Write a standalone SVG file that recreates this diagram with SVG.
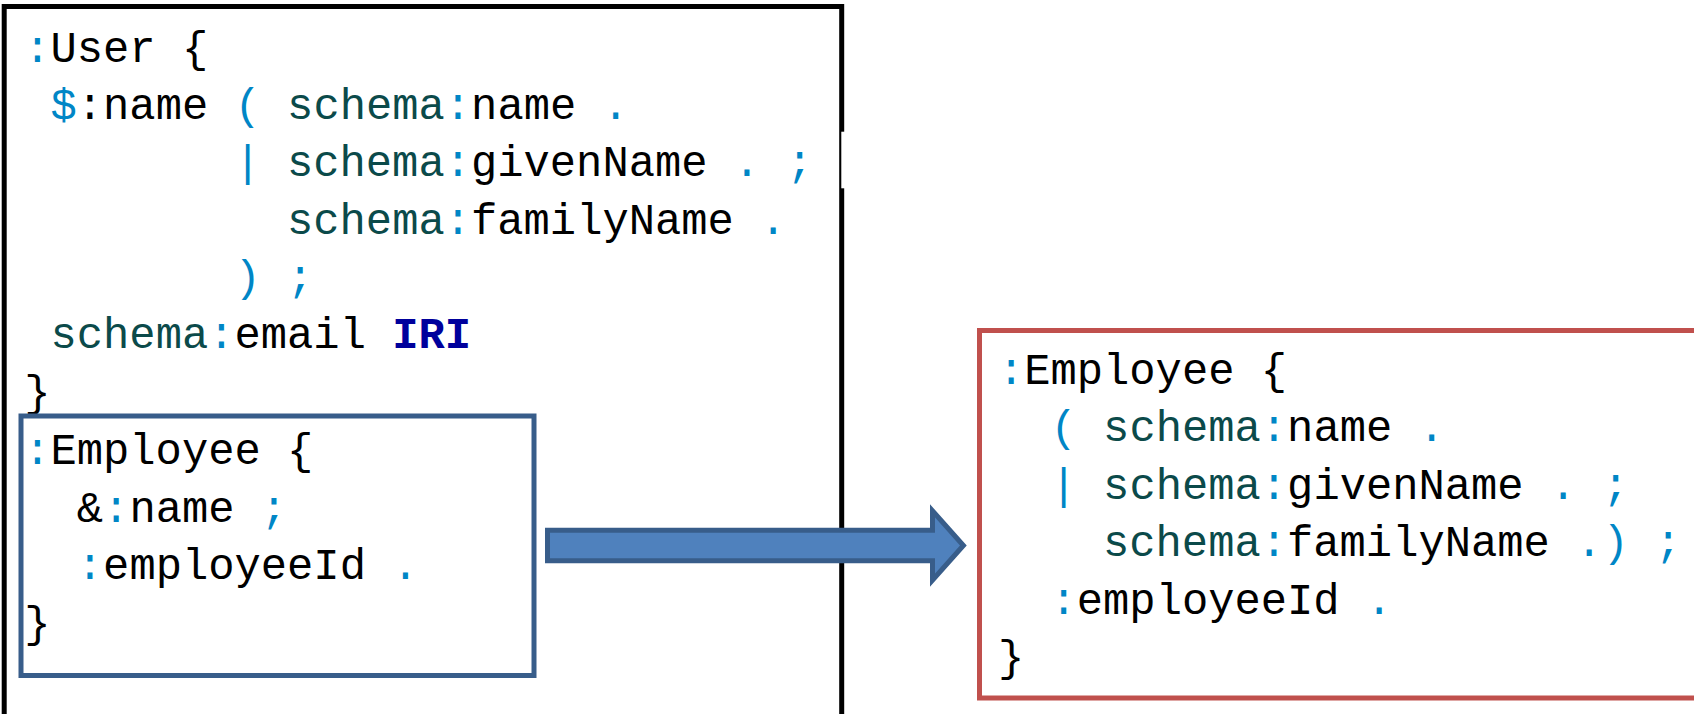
<svg xmlns="http://www.w3.org/2000/svg" width="1694" height="714" viewBox="0 0 1694 714">
  <style>
    .code { font-family: "Liberation Mono", "DejaVu Sans Mono", monospace; font-size: 43.8px; fill: #000000; }
    .p { fill: #0086C6; }
    .s { fill: #0B4A4A; }
    .k { fill: #00009C; font-weight: bold; }
    .frame { fill: #FFFFFF; stroke-width: 5; }
  </style>
  <rect x="0" y="0" width="1694" height="714" fill="#FFFFFF"/>

  <!-- :User shape definition; code columns are 26.28px wide -->
  <g id="user-shape">
    <rect class="frame" x="4.2" y="6.5" width="837.5" height="800" stroke="#000000"/>
    <rect x="841.3" y="131.7" width="4" height="56.6" fill="#FFFFFF"/>
    <text class="code" x="24.2" y="61.7"><tspan class="p">:</tspan>User {</text>
    <text class="code" x="50.5" y="119"><tspan class="p">$</tspan>:name <tspan class="p">(</tspan> <tspan class="s">schema</tspan><tspan class="p">:</tspan>name <tspan class="p">.</tspan></text>
    <text class="code" x="234.4" y="176.3"><tspan class="p">|</tspan> <tspan class="s">schema</tspan><tspan class="p">:</tspan>givenName <tspan class="p">.</tspan> <tspan class="p">;</tspan></text>
    <text class="code" x="287.0" y="233.6"><tspan class="s">schema</tspan><tspan class="p">:</tspan>familyName <tspan class="p">.</tspan></text>
    <text class="code" x="234.4" y="290.9"><tspan class="p">)</tspan> <tspan class="p">;</tspan></text>
    <text class="code" x="50.5" y="348.2"><tspan class="s">schema</tspan><tspan class="p">:</tspan>email <tspan class="k">IRI</tspan></text>
    <text class="code" x="24.2" y="405.5">}</text>
  </g>

  <!-- :Employee shape using the &:name reference -->
  <g id="employee-ref">
    <rect class="frame" x="21" y="416" width="513" height="259.5" stroke="#385D8A"/>
    <text class="code" x="24.2" y="464"><tspan class="p">:</tspan>Employee {</text>
    <text class="code" x="76.8" y="521.5">&amp;<tspan class="p">:</tspan>name <tspan class="p">;</tspan></text>
    <text class="code" x="76.8" y="579"><tspan class="p">:</tspan>employeeId <tspan class="p">.</tspan></text>
    <text class="code" x="24.2" y="636.5">}</text>
  </g>

  <!-- :Employee shape with the reference expanded -->
  <g id="employee-expanded">
    <rect class="frame" x="979.5" y="330.5" width="800" height="367.5" stroke="#C0504D" stroke-width="5.5"/>
    <text class="code" x="997.9" y="383.5"><tspan class="p">:</tspan>Employee {</text>
    <text class="code" x="1050.5" y="441"><tspan class="p">(</tspan> <tspan class="s">schema</tspan><tspan class="p">:</tspan>name <tspan class="p">.</tspan></text>
    <text class="code" x="1050.5" y="498.5"><tspan class="p">|</tspan> <tspan class="s">schema</tspan><tspan class="p">:</tspan>givenName <tspan class="p">.</tspan> <tspan class="p">;</tspan></text>
    <text class="code" x="1103.0" y="556"><tspan class="s">schema</tspan><tspan class="p">:</tspan>familyName <tspan class="p">.)</tspan> <tspan class="p">;</tspan></text>
    <text class="code" x="1050.5" y="613.5"><tspan class="p">:</tspan>employeeId <tspan class="p">.</tspan></text>
    <text class="code" x="997.9" y="671">}</text>
  </g>

  <!-- block arrow -->
  <g id="connectors">
    <path d="M547.5,530.2 L932.5,530.2 L932.5,510.8 L963.4,545.5 L932.5,580.2 L932.5,560.8 L547.5,560.8 Z" fill="#4F81BD" stroke="#385D8A" stroke-width="5" stroke-linejoin="miter"/>
  </g>
</svg>
